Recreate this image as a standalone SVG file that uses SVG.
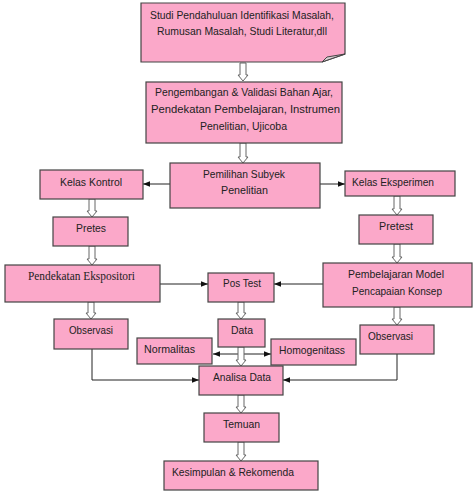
<svg xmlns="http://www.w3.org/2000/svg" width="474" height="500" viewBox="0 0 474 500">
<style>
.box{fill:#fba8c9;stroke:#444;stroke-width:1.2}
.t{font-family:"Liberation Sans",Arial,sans-serif;font-size:11px;fill:#222}
.s{font-family:"Liberation Serif","Times New Roman",serif;font-size:11.5px;fill:#222}
.ha{fill:#fff;stroke:#666;stroke-width:1}
.ln{fill:none;stroke:#222;stroke-width:1}
</style>
<defs>
<marker id="ah" viewBox="0 0 10 10" refX="10" refY="5" markerWidth="7" markerHeight="7" orient="auto-start-reverse" markerUnits="userSpaceOnUse">
<path d="M0,1 L10,5 L0,9 Z" fill="#111"/>
</marker>
</defs>
<rect width="474" height="500" fill="#fff"/>

<g id="connectors">
<path class="ln" d="M170,184 H143" marker-end="url(#ah)"/>
<path class="ln" d="M320,184 H345" marker-end="url(#ah)"/>
<path class="ln" d="M160,284 H208" marker-end="url(#ah)"/>
<path class="ln" d="M323,284 H274" marker-end="url(#ah)"/>
<path class="ln" d="M92,349 V380 H199" marker-end="url(#ah)"/>
<path class="ln" d="M397,354 V380 H283" marker-end="url(#ah)"/>
<path class="ln" d="M213,354 H271" marker-start="url(#ah)" marker-end="url(#ah)"/>
<path class="ha" d="M240,63 V75 H238 L243,81 L248,75 H246 V63 Z"/>
<path class="ha" d="M240,143 V157 H238 L243,163 L248,157 H246 V143 Z"/>
<path class="ha" d="M89,199 V211 H87 L92,217 L97,211 H95 V199 Z"/>
<path class="ha" d="M89,246 V259 H87 L92,265 L97,259 H95 V246 Z"/>
<path class="ha" d="M88,302 V313 H86 L91,319 L96,313 H94 V302 Z"/>
<path class="ha" d="M394,196 V209 H392 L397,215 L402,209 H400 V196 Z"/>
<path class="ha" d="M394,244 V257 H392 L397,263 L402,257 H400 V244 Z"/>
<path class="ha" d="M394,307 V319 H392 L397,325 L402,319 H400 V307 Z"/>
<path class="ha" d="M238,302 V313 H236 L241,319 L246,313 H244 V302 Z"/>
<path class="ha" d="M238,347 V360 H236 L241,366 L246,360 H244 V347 Z"/>
<path class="ha" d="M238,395 V407 H236 L241,413 L246,407 H244 V395 Z"/>
<path class="ha" d="M238,442 V455 H236 L241,461 L246,455 H244 V442 Z"/>
</g>

<g id="studi">
<path class="box" d="M141,3 H345 V54 L322,62 H141 Z"/>
<path d="M345,54 L327,57 L322,62 Z" fill="#d9d0d3" stroke="#444" stroke-width="1"/>
<text class="t" x="150" y="19" textLength="184" lengthAdjust="spacingAndGlyphs">Studi Pendahuluan Identifikasi Masalah,</text>
<text class="t" x="157" y="35" textLength="170" lengthAdjust="spacingAndGlyphs">Rumusan Masalah, Studi Literatur,dll</text>
</g>

<g id="pengembangan">
<rect class="box" x="146" y="82" width="196" height="61"/>
<text class="t" x="155" y="96" textLength="178" lengthAdjust="spacingAndGlyphs">Pengembangan &amp; Validasi Bahan Ajar,</text>
<text class="t" x="151" y="113" textLength="189" lengthAdjust="spacingAndGlyphs">Pendekatan Pembelajaran, Instrumen</text>
<text class="t" x="200" y="130" textLength="87" lengthAdjust="spacingAndGlyphs">Penelitian, Ujicoba</text>
</g>

<g id="pemilihan">
<rect class="box" x="170" y="163" width="150" height="45"/>
<text class="t" x="203" y="178" textLength="82" lengthAdjust="spacingAndGlyphs">Pemilihan Subyek</text>
<text class="t" x="221" y="194" textLength="47" lengthAdjust="spacingAndGlyphs">Penelitian</text>
</g>

<g id="kelas-kontrol">
<rect class="box" x="40" y="170" width="103" height="29"/>
<text class="t" x="60" y="186" textLength="62" lengthAdjust="spacingAndGlyphs">Kelas Kontrol</text>
</g>

<g id="kelas-eksperimen">
<rect class="box" x="345" y="171" width="110" height="25"/>
<text class="t" x="352" y="186" textLength="82" lengthAdjust="spacingAndGlyphs">Kelas Eksperimen</text>
</g>

<g id="pretes">
<rect class="box" x="53" y="217" width="75" height="29"/>
<text class="t" x="76" y="232" textLength="30" lengthAdjust="spacingAndGlyphs">Pretes</text>
</g>

<g id="pretest">
<rect class="box" x="359" y="215" width="74" height="29"/>
<text class="t" x="379" y="230" textLength="34" lengthAdjust="spacingAndGlyphs">Pretest</text>
</g>

<g id="pendekatan">
<rect class="box" x="5" y="265" width="155" height="37"/>
<text class="s" x="28" y="280" textLength="107" lengthAdjust="spacingAndGlyphs">Pendekatan Ekspositori</text>
</g>

<g id="pembelajaran">
<rect class="box" x="323" y="263" width="149" height="44"/>
<text class="t" x="348" y="278" textLength="96" lengthAdjust="spacingAndGlyphs">Pembelajaran Model</text>
<text class="t" x="352" y="295" textLength="90" lengthAdjust="spacingAndGlyphs">Pencapaian Konsep</text>
</g>

<g id="pos-test">
<rect class="box" x="208" y="273" width="66" height="29"/>
<text class="t" x="223" y="287" textLength="38" lengthAdjust="spacingAndGlyphs">Pos Test</text>
</g>

<g id="observasi-kiri">
<rect class="box" x="54" y="319" width="74" height="30"/>
<text class="t" x="69" y="334" textLength="44" lengthAdjust="spacingAndGlyphs">Observasi</text>
</g>

<g id="observasi-kanan">
<rect class="box" x="360" y="325" width="74" height="29"/>
<text class="t" x="368" y="340" textLength="45" lengthAdjust="spacingAndGlyphs">Observasi</text>
</g>

<g id="data">
<rect class="box" x="218" y="319" width="47" height="28"/>
<text class="t" x="231" y="334" textLength="22" lengthAdjust="spacingAndGlyphs">Data</text>
</g>

<g id="normalitas">
<rect class="box" x="137" y="338" width="75" height="26"/>
<text class="t" x="144" y="353" textLength="51" lengthAdjust="spacingAndGlyphs">Normalitas</text>
</g>

<g id="homogenitass">
<rect class="box" x="271" y="339" width="85" height="26"/>
<text class="t" x="279" y="354" textLength="66" lengthAdjust="spacingAndGlyphs">Homogenitass</text>
</g>

<g id="analisa-data">
<rect class="box" x="199" y="366" width="84" height="29"/>
<text class="t" x="213" y="381" textLength="58" lengthAdjust="spacingAndGlyphs">Analisa Data</text>
</g>

<g id="temuan">
<rect class="box" x="204" y="413" width="75" height="29"/>
<text class="t" x="223" y="428" textLength="37" lengthAdjust="spacingAndGlyphs">Temuan</text>
</g>

<g id="kesimpulan">
<rect class="box" x="164" y="461" width="154" height="29"/>
<text class="t" x="172" y="476" textLength="122" lengthAdjust="spacingAndGlyphs">Kesimpulan &amp; Rekomenda</text>
</g>
</svg>
